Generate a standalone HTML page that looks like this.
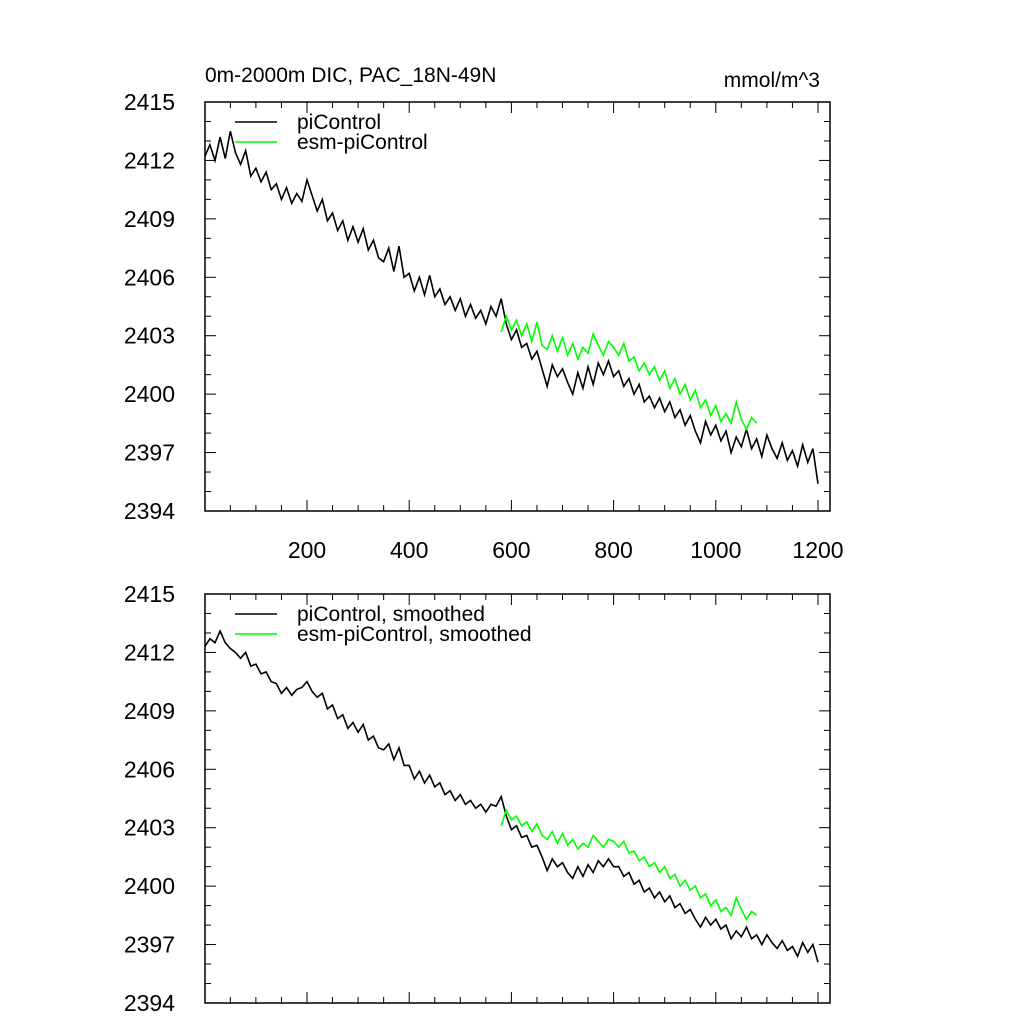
<!DOCTYPE html>
<html><head><meta charset="utf-8"><style>
html,body{margin:0;padding:0;background:#fff}
svg{display:block;font-family:"Liberation Sans",sans-serif}
</style></head><body>
<svg id="chart" width="1024" height="1024" viewBox="0 0 1024 1024" xmlns="http://www.w3.org/2000/svg"></svg>
<script>
const yTickLabels=[2394,2397,2400,2403,2406,2409,2412,2415];
const xTickLabels=[200,400,600,800,1000,1200];
const blackYearsStart=0, greenYearsStart=580, stepYears=10;
const piControl=[2412.2,2412.8,2412.0,2413.2,2412.1,2413.5,2412.4,2411.8,2412.5,2411.2,
2411.6,2410.9,2411.4,2410.5,2410.8,2410.0,2410.6,2409.8,2410.3,2409.9,
2411.0,2410.2,2409.4,2410.0,2408.9,2409.3,2408.4,2408.9,2407.9,2408.6,
2407.8,2408.5,2407.4,2407.9,2407.0,2406.8,2407.5,2406.3,2407.6,2406.0,
2406.2,2405.3,2406.0,2405.1,2406.1,2405.0,2405.4,2404.6,2405.0,2404.3,
2404.9,2404.0,2404.6,2403.9,2404.3,2403.6,2404.5,2404.0,2404.9,2403.6,
2402.8,2403.3,2402.4,2402.6,2401.8,2402.2,2401.3,2400.4,2401.5,2400.9,
2401.3,2400.6,2400.0,2401.1,2400.3,2401.4,2400.5,2401.6,2401.0,2401.7,
2400.9,2401.2,2400.4,2400.8,2400.0,2400.5,2399.6,2399.9,2399.3,2399.8,
2399.1,2399.6,2398.8,2399.2,2398.4,2398.9,2398.1,2397.5,2398.6,2397.9,
2398.4,2397.6,2398.1,2397.0,2397.8,2397.3,2398.2,2397.2,2397.7,2396.8,
2397.9,2397.2,2396.7,2397.5,2396.6,2397.1,2396.3,2397.4,2396.5,2397.2,2395.4];
const esmPiControl=[2403.2,2404.0,2403.3,2403.8,2403.0,2403.6,2402.7,2403.7,2402.5,2402.3,
2403.0,2402.2,2402.9,2402.0,2402.6,2401.8,2402.4,2402.1,2403.1,2402.5,
2402.0,2402.7,2402.4,2402.0,2402.6,2401.7,2401.9,2401.2,2401.6,2401.0,
2401.4,2400.7,2401.2,2400.3,2400.8,2400.0,2400.5,2399.7,2400.2,2399.3,
2399.7,2398.9,2399.4,2398.6,2399.0,2398.5,2399.6,2398.7,2398.2,2398.8,2398.5];
const piControlSmooth=[2412.3,2412.7,2412.5,2413.1,2412.5,2412.2,2412.0,2411.7,2412.0,2411.3,
2411.4,2410.9,2411.0,2410.5,2410.4,2409.9,2410.2,2409.8,2410.1,2410.2,
2410.5,2410.0,2409.7,2409.9,2409.1,2409.3,2408.6,2408.8,2408.1,2408.4,
2407.9,2408.3,2407.5,2407.7,2407.1,2407.0,2407.3,2406.5,2407.1,2406.2,
2406.2,2405.5,2405.9,2405.3,2405.7,2405.1,2405.3,2404.7,2404.9,2404.4,
2404.7,2404.2,2404.4,2404.0,2404.2,2403.8,2404.2,2404.1,2404.6,2403.6,
2402.9,2403.1,2402.5,2402.6,2402.0,2402.1,2401.5,2400.8,2401.4,2401.0,
2401.2,2400.7,2400.4,2401.0,2400.5,2401.1,2400.7,2401.3,2401.0,2401.4,
2401.0,2401.0,2400.5,2400.7,2400.1,2400.3,2399.7,2399.9,2399.4,2399.7,
2399.2,2399.5,2398.9,2399.1,2398.6,2398.8,2398.3,2397.9,2398.4,2398.0,
2398.3,2397.8,2398.0,2397.3,2397.7,2397.4,2397.9,2397.3,2397.5,2397.0,
2397.5,2397.1,2396.8,2397.2,2396.7,2396.9,2396.4,2397.1,2396.6,2397.0,2396.1];
const esmPiControlSmooth=[2403.1,2403.9,2403.4,2403.6,2403.1,2403.3,2402.8,2403.2,2402.6,2402.4,
2402.8,2402.2,2402.7,2402.1,2402.4,2401.9,2402.2,2402.0,2402.6,2402.3,
2402.0,2402.4,2402.3,2402.0,2402.3,2401.7,2401.8,2401.3,2401.5,2401.0,
2401.2,2400.7,2401.0,2400.4,2400.6,2400.0,2400.3,2399.8,2400.0,2399.4,
2399.6,2399.0,2399.3,2398.7,2398.9,2398.5,2399.4,2398.8,2398.3,2398.7,2398.5];

const svg=document.getElementById('chart');
const NS='http://www.w3.org/2000/svg';
function el(tag,attrs,parent){const e=document.createElementNS(NS,tag);for(const k in attrs)e.setAttribute(k,attrs[k]);(parent||svg).appendChild(e);return e;}
const X0=205,X1=830;
function xs(yr){return 204.8+yr*0.511;}
function makeY(top){return v=>top+(2415-v)*(409/21);}

function panel(top,name,blackData,greenData,leg1,leg2,showX){
  const ys=makeY(top),bottom=top+409;
  const g=el('g',{});
  
  
  for(let v=2394;v<=2415;v++){
    const major=(v-2394)%3===0,len=major?11:6,y=ys(v);
    el('line',{x1:X0,x2:X0+len,y1:y,y2:y,stroke:'#000','stroke-width':1},g);
    el('line',{x1:X1,x2:X1-len,y1:y,y2:y,stroke:'#000','stroke-width':1},g);
  }
  yTickLabels.forEach(v=>{
    const t=el('text',{x:X0-30,y:ys(v)+8,'text-anchor':'end','font-size':23},g);
    
    
    t.textContent=v;
  });
  for(let yr=50;yr<=1200;yr+=50){
    const major=yr%200===0,len=major?11:6,x=xs(yr);
    el('line',{x1:x,x2:x,y1:bottom,y2:bottom-len,stroke:'#000'},g);
    el('line',{x1:x,x2:x,y1:top,y2:top+len,stroke:'#000'},g);
  }
  if(showX) xTickLabels.forEach(v=>{
    const t=el('text',{x:xs(v),y:bottom+47,'text-anchor':'middle','font-size':23},g);
    
    
    t.textContent=v;
  });
  const blk=el('polyline',{fill:'none',stroke:'#000','stroke-width':1.6,points:blackData.map((v,i)=>xs(blackYearsStart+i*stepYears)+','+ys(v)).join(' ')},g);
  
  
  const grn=el('polyline',{fill:'none',stroke:'#00ff00','stroke-width':1.6,points:greenData.map((v,i)=>xs(greenYearsStart+i*stepYears)+','+ys(v)).join(' ')},g);
  
  
  el('rect',{x:X0,y:top,width:X1-X0,height:409,fill:'none',stroke:'#000','stroke-width':1.5},g);
  [[leg1,'#000',top+20],[leg2,'#00ff00',top+40]].forEach(([txt,c,y])=>{
    const lg=el('g',{},g);
    
    
    el('line',{x1:235,x2:277,y1:y,y2:y,stroke:c,'stroke-width':1.5},lg);
    const t=el('text',{x:297,y:y+7,'font-size':21},lg);t.textContent=txt;
  });
}
panel(102,'top-panel',piControl,esmPiControl,'piControl','esm-piControl',true);
panel(594,'bottom-panel',piControlSmooth,esmPiControlSmooth,'piControl, smoothed','esm-piControl, smoothed',false);
const t1=el('text',{x:205,y:82,'font-size':21});t1.textContent='0m-2000m DIC, PAC_18N-49N';


const t2=el('text',{x:820,y:87,'font-size':21,'text-anchor':'end'});t2.textContent='mmol/m^3';


</script>
</body></html>
